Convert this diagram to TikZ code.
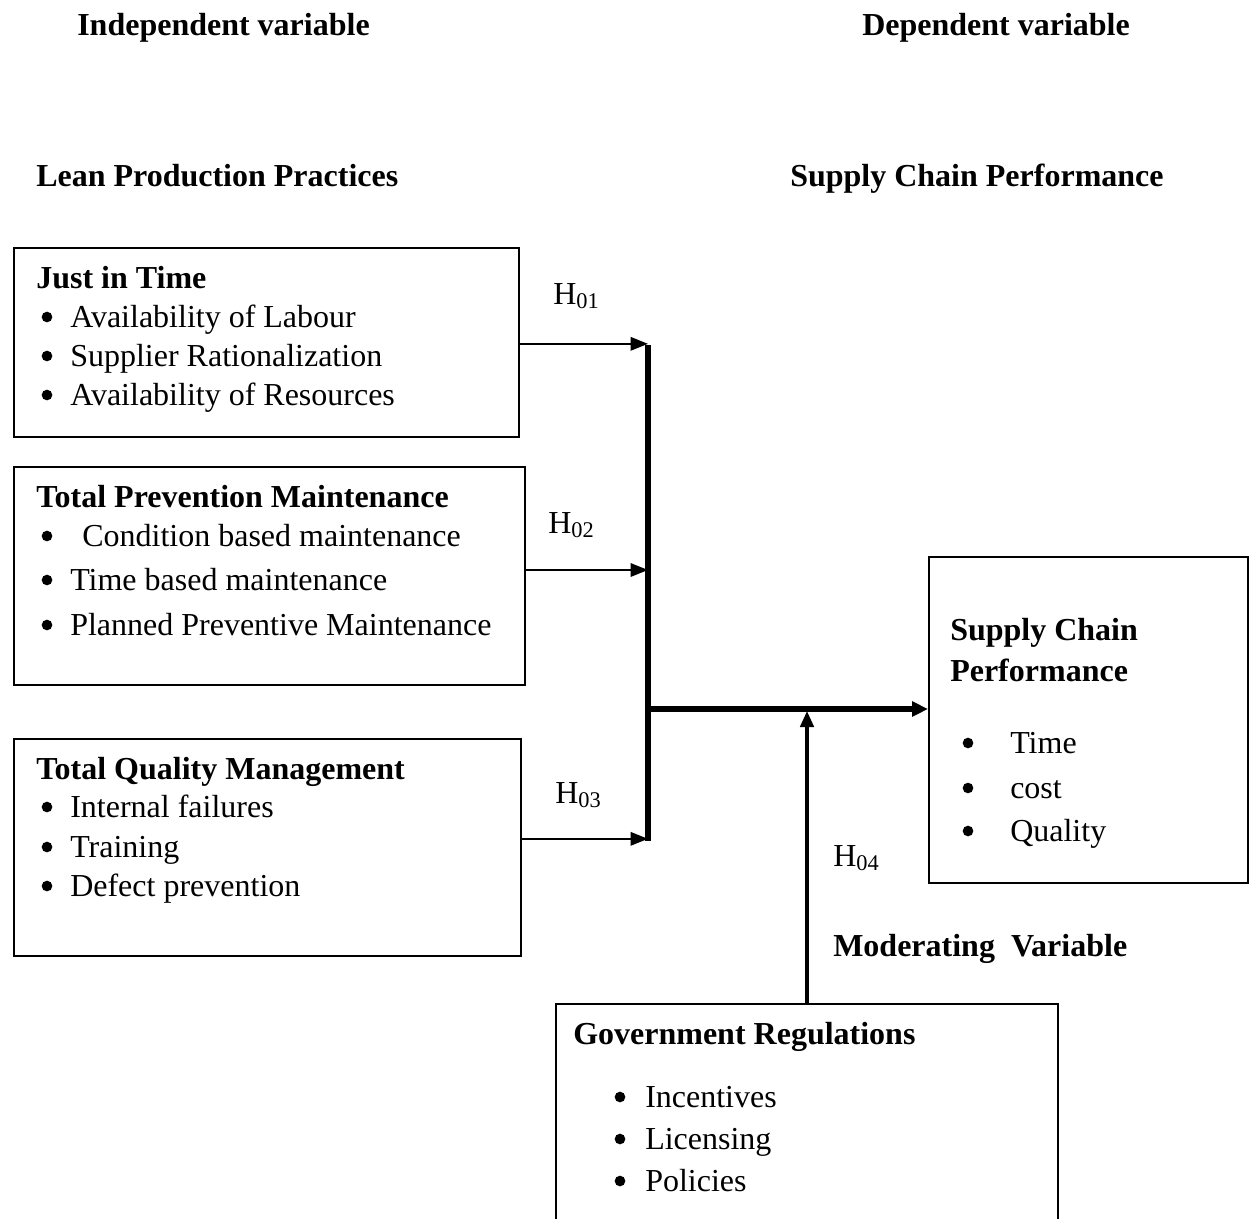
\documentclass[tikz,border=0pt]{standalone}
\usepackage{fontspec}
\setmainfont{Liberation Serif}
\usetikzlibrary{arrows.meta}
\begin{document}
\begin{tikzpicture}[x=0.75pt,y=-0.75pt,
  txt/.style={inner sep=0pt,anchor=base west,yshift=-1.5pt,font=\fontsize{24}{28}\selectfont},
  btxt/.style={txt,font=\fontsize{24}{28}\selectfont\bfseries},
  boxst/.style={draw,line width=1.5pt,anchor=north west,inner sep=0pt},
  thinarr/.style={line width=1.5pt,-{Triangle[length=13pt,width=10pt]}},
  thickbar/.style={line width=3.8pt},
  thickarr/.style={line width=3.8pt,-{Triangle[length=12pt,width=11pt]}},
  modarr/.style={line width=2.6pt,-{Triangle[length=12pt,width=10pt]}},
  bul/.style={circle,fill,inner sep=0pt,minimum size=8pt}
]
\clip (0,0) rectangle (1249,1218);
\fill[white] (0,0) rectangle (1249,1218);

% headings
\node[btxt] (indep) at (77,33) {Independent variable};
\node[btxt] (dep) at (862,33) {Dependent variable};
\node[btxt] (lean) at (36,184) {Lean Production Practices};
\node[btxt] (scph) at (790,184) {Supply Chain Performance};
\node[btxt] (mod) at (833,954) {Moderating\ \ Variable};

% boxes
\node[boxst,minimum width=505*0.75pt,minimum height=189*0.75pt] (jit) at (13,247) {};
\node[boxst,minimum width=511*0.75pt,minimum height=218*0.75pt] (tpm) at (13,466) {};
\node[boxst,minimum width=507*0.75pt,minimum height=217*0.75pt] (tqm) at (13,738) {};
\node[boxst,minimum width=319*0.75pt,minimum height=326*0.75pt] (scp) at (928,556) {};
\node[boxst,minimum width=502*0.75pt,minimum height=260*0.75pt] (gov) at (555,1003) {};

% box 1
\node[btxt] (jitt) at (36,286) {Just in Time};
\node[bul] (b11) at (47,317) {};
\node[txt] (t11) at (70,325) {Availability of Labour};
\node[bul] (b12) at (47,356) {};
\node[txt] (t12) at (70,364) {Supplier Rationalization};
\node[bul] (b13) at (47,395) {};
\node[txt] (t13) at (70,403) {Availability of Resources};

% box 2
\node[btxt] (tpmt) at (36,505) {Total Prevention Maintenance};
\node[bul] (b21) at (47,536) {};
\node[txt] (t21) at (82,544) {Condition based maintenance};
\node[bul] (b22) at (47,580) {};
\node[txt] (t22) at (70,588) {Time based maintenance};
\node[bul] (b23) at (47,625) {};
\node[txt] (t23) at (70,633) {Planned Preventive Maintenance};

% box 3
\node[btxt] (tqmt) at (36,777) {Total Quality Management};
\node[bul] (b31) at (47,807) {};
\node[txt] (t31) at (70,815) {Internal failures};
\node[bul] (b32) at (47,847) {};
\node[txt] (t32) at (70,855) {Training};
\node[bul] (b33) at (47,886) {};
\node[txt] (t33) at (70,894) {Defect prevention};

% box 4
\node[btxt] (scp1) at (950,638) {Supply Chain};
\node[btxt] (scp2) at (950,679) {Performance};
\node[bul] (b41) at (968,743) {};
\node[txt] (t41) at (1010,751) {Time};
\node[bul] (b42) at (968,788) {};
\node[txt] (t42) at (1010,796) {cost};
\node[bul] (b43) at (968,831) {};
\node[txt] (t43) at (1010,839) {Quality};

% box 5
\node[btxt] (govt) at (573,1042) {Government Regulations};
\node[bul] (b51) at (620,1097) {};
\node[txt] (t51) at (645,1105) {Incentives};
\node[bul] (b52) at (620,1139) {};
\node[txt] (t52) at (645,1147) {Licensing};
\node[bul] (b53) at (620,1181) {};
\node[txt] (t53) at (645,1189) {Policies};

% hypothesis labels
\node[txt] (h1) at (553,302) {H\textsubscript{01}};
\node[txt] (h2) at (548,531) {H\textsubscript{02}};
\node[txt] (h3) at (555,801) {H\textsubscript{03}};
\node[txt] (h4) at (833,864) {H\textsubscript{04}};

% connectors
\coordinate (bartop) at (648,345);
\coordinate (barbot) at (648,841);
\coordinate (join) at (648,709);
\draw[thickbar] (bartop) -- (barbot);
\draw[thinarr] ([yshift=-1pt]jit.east) -- ([yshift=-1pt]jit.east -| bartop);
\draw[thinarr] ([yshift=4.5pt]tpm.east) -- ([yshift=4.5pt]tpm.east -| bartop);
\draw[thinarr] ([yshift=6.5pt]tqm.east) -- ([yshift=6.5pt]tqm.east -| bartop);
\draw[thickarr] (join) -- (join -| scp.west);
\coordinate (modend) at (gov.north |- 0,711);
\draw[modarr] (gov.north) -- (modend);
\end{tikzpicture}
\end{document}
